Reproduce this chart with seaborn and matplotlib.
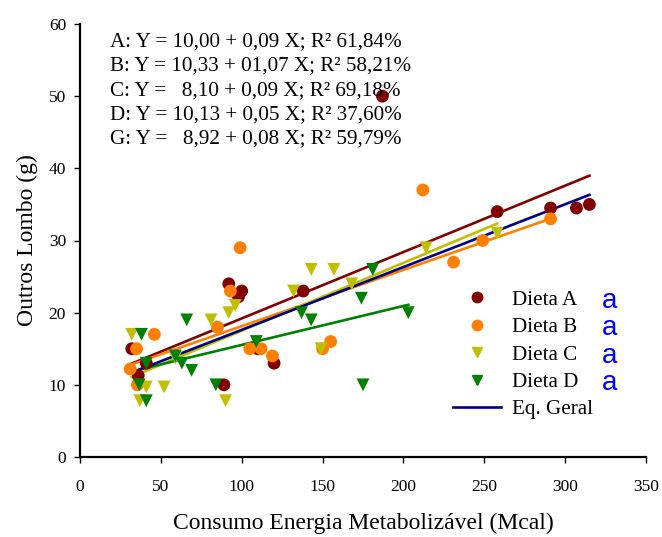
import numpy as np
import pandas as pd
import matplotlib
matplotlib.use('Agg')
import matplotlib.pyplot as plt
from matplotlib.lines import Line2D
import seaborn as sns

# Data
diets = ['Dieta A', 'Dieta B', 'Dieta C', 'Dieta D']

a_x = [32, 36, 41, 89, 92, 98, 100, 110, 120, 138, 187, 258, 291, 307, 315]
a_y = [15, 11.3, 13, 10, 24, 22.2, 23, 15, 13, 23, 50, 34, 34.5, 34.5, 35]

b_x = [31, 35.5, 35, 46, 85, 93, 99, 105, 112, 119, 150, 155, 212, 231, 249, 291]
b_y = [12.2, 10, 15, 17, 18, 23, 29, 15, 15, 14, 15, 16, 37, 27, 30, 33]

c_x = [32, 37, 41, 52, 59, 81, 90, 92, 96, 132, 143, 149, 157, 168, 214, 258]
c_y = [17, 7.8, 9.7, 9.7, 13.7, 19, 7.8, 20, 21, 23, 26, 15, 26, 24, 29, 31]

d_x = [38, 36.6, 41, 41, 59, 63, 66, 69, 84, 109, 137, 143, 174, 175, 181, 203]
d_y = [17, 10, 13, 7.8, 14, 13, 19, 12, 10, 16, 20, 19, 22, 10, 26, 20]

# regression lines (intercept, slope) for A, B, C, D and general
line_names = ['A', 'B', 'C', 'D', 'G']
intercepts = [10.00, 10.33, 8.10, 10.13, 8.92]
slopes = [0.092, 0.078, 0.094, 0.054, 0.087]

equations = [
    'A: Y = 10,00 + 0,09 X; R² 61,84%',
    'B: Y = 10,33 + 01,07 X; R² 58,21%',
    'C: Y =   8,10 + 0,09 X; R² 69,18%',
    'D: Y = 10,13 + 0,05 X; R² 37,60%',
    'G: Y =   8,92 + 0,08 X; R² 59,79%',
]
letters = ['a', 'a', 'a', 'a']

colors = {'Dieta A': '#800000', 'Dieta B': '#ff8000', 'Dieta C': '#bfbf00', 'Dieta D': '#008000'}
markers = {'Dieta A': 'o', 'Dieta B': 'o', 'Dieta C': 'v', 'Dieta D': 'v'}
line_colors = ['#800000', '#ff8000', '#bfbf00', '#008000', '#000080']

plt.rcParams['font.family'] = ['Liberation Serif', 'DejaVu Serif']

df = pd.concat([
    pd.DataFrame({'x': xs, 'y': ys, 'dieta': name})
    for name, xs, ys in zip(diets, [a_x, b_x, c_x, d_x], [a_y, b_y, c_y, d_y])
], ignore_index=True)

fig = plt.figure(figsize=(6.62, 5.37), dpi=100)
ax = fig.add_axes([80 / 662, 1 - 457 / 537, 566 / 662, 433 / 537])

# fitted lines over each group's x range
groups = [df[df.dieta == d] for d in diets] + [df]
for g, b0, b1, col in zip(groups, intercepts, slopes, line_colors):
    xr = np.array([g.x.min(), g.x.max()])
    sns.lineplot(x=xr, y=b0 + b1 * xr, color=col, linewidth=1.9, ax=ax, zorder=2)

sns.scatterplot(data=df, x='x', y='y', hue='dieta', style='dieta',
                palette=colors, markers=markers, s=85, edgecolor='none',
                legend=False, ax=ax, zorder=3)

ax.set_xlim(0, 350)
ax.set_ylim(0, 60)
ax.set_xticks(range(0, 351, 50))
ax.set_yticks(range(0, 61, 10))
for side in ['top', 'right']:
    ax.spines[side].set_visible(False)
for side in ['left', 'bottom']:
    ax.spines[side].set_linewidth(1.6)
    ax.spines[side].set_color('black')
ax.tick_params(axis='both', direction='out', length=4, width=1, labelsize=12.5, colors='black')
ax.tick_params(axis='x', pad=12)
ax.tick_params(axis='y', pad=6)
ax.set_xlabel('Consumo Energia Metabolizável (Mcal)', fontsize=17, labelpad=13)
ax.set_ylabel('Outros Lombo (g)', fontsize=17, labelpad=8)

# equations block
for i, eq in enumerate(equations):
    fig.text(110 / 662, 1 - (42 + i * 24.2) / 537, eq, fontsize=15.2,
             ha='left', va='center')

# legend
handles = [Line2D([], [], linestyle='none', marker=markers[d], color=colors[d],
                  markersize=7.5) for d in diets]
handles.append(Line2D([], [], color='#000080', linewidth=1.9))
ax.legend(handles, diets + ['Eq. Geral'], loc='upper left',
          bbox_to_anchor=(453 / 662, 1 - 290 / 537), bbox_transform=fig.transFigure,
          frameon=False, fontsize=15.2, borderpad=0, borderaxespad=0,
          handlelength=2.25, handletextpad=0.55, labelspacing=0.36)

for i, lt in enumerate(letters):
    fig.text(610 / 662, 1 - (308 + i * 27.3) / 537, lt, color='#0000ff',
             fontsize=20, family='Liberation Sans', ha='center', va='baseline')

fig.savefig('out.png', dpi=100)
